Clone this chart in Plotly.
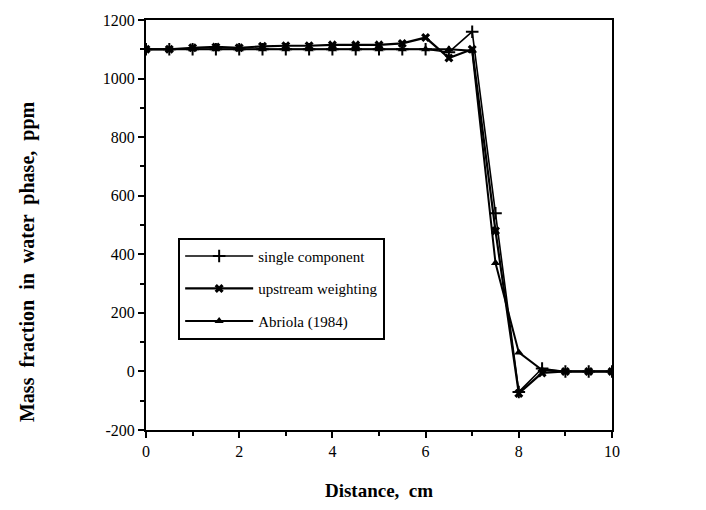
import plotly.graph_objects as go

distance = [0, 0.5, 1, 1.5, 2, 2.5, 3, 3.5, 4, 4.5, 5, 5.5, 6, 6.5, 7, 7.5, 8, 8.5, 9, 9.5, 10]
single_component = [1100, 1100, 1100, 1100, 1100, 1100, 1100, 1100, 1100, 1100, 1100, 1100, 1100, 1090, 1160, 540, -70, 10, 0, 0, 0]
upstream_weighting = [1100, 1100, 1105, 1108, 1105, 1110, 1112, 1112, 1115, 1115, 1115, 1120, 1140, 1070, 1100, 480, -75, -5, 0, 0, 0]
abriola_1984 = [1100, 1100, 1100, 1100, 1100, 1100, 1100, 1100, 1100, 1100, 1100, 1100, 1100, 1100, 1095, 370, 65, 5, 0, 0, 0]

y_tick_vals = [-200, 0, 200, 400, 600, 800, 1000, 1200]
y_tick_text = ["-200", "0", "200", "400", "600", "800", "1000", "1200"]
x_tick_vals = [0, 2, 4, 6, 8, 10]
x_tick_text = ["0", "2", "4", "6", "8", "10"]

series = [
    ("single component", single_component, "cross-thin", 9, 1.6),
    ("upstream weighting", upstream_weighting, "x", 8, 2.2),
    ("Abriola (1984)", abriola_1984, "triangle-up", 8, 2.0),
]

SERIF = "Liberation Serif, Times New Roman, serif"

fig = go.Figure()
for i, (name, vals, sym, size, lw) in enumerate(series):
    fig.add_trace(go.Scatter(
        x=distance, y=vals, name=name, mode="lines+markers",
        line=dict(color="black", width=lw),
        marker=dict(symbol=sym, size=size, color="black",
                    line=dict(color="black", width=2 if sym == "cross-thin" else 0)),
        legendgroup=f"g{i}",
    ))

axis_common = dict(
    showline=True, linecolor="black", linewidth=2, mirror=True,
    ticks="outside", ticklen=6, tickwidth=1.5, tickcolor="black",
    showgrid=False, zeroline=False,
    tickfont=dict(family=SERIF, size=16, color="black"),
)

fig.update_xaxes(range=[0, 10], tickmode="array", tickvals=x_tick_vals, ticktext=x_tick_text,
                 minor=dict(dtick=1, tick0=0, ticks="outside", ticklen=4, tickcolor="black", tickwidth=1.5),
                 title=dict(text="<b>Distance,  cm</b>", font=dict(family=SERIF, size=19, color="black"), standoff=24),
                 **axis_common)
fig.update_yaxes(range=[-200, 1200], tickmode="array", tickvals=y_tick_vals, ticktext=y_tick_text,
                 minor=dict(dtick=100, tick0=0, ticks="outside", ticklen=4, tickcolor="black", tickwidth=1.5),
                 **axis_common)

fig.add_annotation(
    xref="paper", yref="paper", x=-0.253, y=0.41, xanchor="center", yanchor="middle",
    text="<b>Mass  fraction  in  water  phase,  ppm</b>", textangle=-90, showarrow=False,
    font=dict(family=SERIF, size=20, color="black"),
)

fig.update_layout(
    width=706, height=510,
    margin=dict(l=146, r=94, t=15, b=79),
    paper_bgcolor="white", plot_bgcolor="white",
    showlegend=True,
    legend=dict(x=0.069, y=0.469, xanchor="left", yanchor="top",
                bordercolor="black", borderwidth=2, bgcolor="white",
                font=dict(family=SERIF, size=15, color="black"),
                itemwidth=68, tracegroupgap=10),
)

fig.write_html("out.html")
